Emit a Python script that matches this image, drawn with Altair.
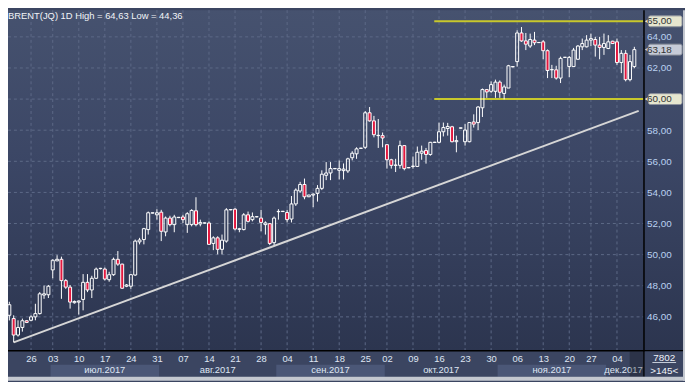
import altair as alt
import pandas as pd

# ---------------- data ----------------
opens = [
    46.10, 45.89, 44.83, 45.32, 45.75, 45.78, 46.00, 46.21, 47.40, 47.42,
    49.02, 49.60, 49.70, 48.33, 47.91, 46.91, 46.95, 47.12, 48.22, 47.73,
    48.48, 49.10, 49.07, 48.39, 48.71, 49.70, 49.39, 47.97, 47.97, 48.69,
    50.82, 50.97, 51.61, 52.67, 52.56, 52.73, 51.46, 52.35, 51.93, 52.38,
    52.42, 51.93, 51.93, 52.82, 51.97, 52.03, 52.03, 50.72, 51.08, 50.34,
    50.87, 52.88, 52.92, 51.63, 51.61, 52.56, 52.25, 52.43, 52.35, 51.93,
    51.99, 50.77, 52.76, 52.77, 52.71, 52.29, 53.26, 54.09, 54.51, 53.72,
    53.83, 53.94, 54.26, 55.10, 55.25, 55.52, 55.42, 55.40, 55.38, 56.23,
    56.48, 56.83, 56.90, 59.12, 58.60, 57.65, 57.65, 57.07, 56.10, 55.74,
    55.74, 57.01, 55.58, 55.67, 55.67, 56.52, 56.69, 56.44, 57.21, 57.22,
    57.90, 58.11, 58.22, 57.26, 58.13, 57.26, 57.26, 58.53, 58.49, 59.44,
    60.61, 60.50, 60.50, 61.09, 60.36, 60.71, 62.07, 62.41, 64.25, 63.74,
    63.41, 63.79, 63.64, 63.68, 63.11, 61.88, 61.88, 61.35, 62.68, 62.09,
    62.09, 62.56, 63.36, 63.36, 63.79, 63.83, 63.47, 63.32, 63.25, 63.72,
    63.68, 62.35, 62.94, 61.25, 62.09]
highs = [
    46.97, 46.10, 45.78, 45.89, 45.80, 46.10, 46.84, 47.59, 48.01, 48.05,
    49.70, 49.96, 49.87, 48.43, 48.05, 47.05, 47.05, 48.75, 48.75, 48.64,
    49.17, 49.15, 49.17, 48.90, 49.81, 50.23, 49.42, 48.11, 48.75, 50.97,
    51.08, 51.72, 52.77, 52.70, 52.92, 52.88, 52.45, 52.50, 52.56, 52.42,
    52.56, 52.73, 52.92, 53.69, 52.25, 52.06, 52.14, 51.18, 51.18, 51.29,
    52.99, 52.92, 52.99, 51.72, 52.67, 52.77, 52.71, 52.46, 52.88, 52.14,
    52.03, 52.45, 52.92, 52.80, 52.88, 53.77, 54.26, 54.68, 54.89, 53.85,
    53.94, 54.47, 55.42, 55.95, 55.95, 55.56, 56.05, 55.86, 56.23, 56.65,
    56.90, 56.86, 59.23, 59.49, 58.92, 58.72, 57.85, 57.07, 56.16, 56.16,
    57.33, 57.01, 55.62, 56.31, 56.95, 57.01, 56.86, 57.25, 57.25, 58.49,
    58.49, 58.47, 58.28, 57.65, 58.17, 58.39, 58.49, 59.02, 59.55, 60.68,
    60.65, 61.14, 61.25, 61.20, 60.93, 62.20, 62.11, 64.42, 64.63, 64.25,
    64.21, 64.32, 63.66, 63.79, 63.19, 62.20, 62.14, 62.73, 62.70, 62.77,
    63.29, 63.47, 63.89, 64.11, 64.21, 64.00, 64.00, 64.21, 64.11, 63.75,
    63.89, 63.15, 63.15, 62.84, 63.36]
lows = [
    45.77, 44.36, 44.73, 45.05, 45.60, 45.72, 45.78, 46.15, 47.16, 47.21,
    48.48, 49.58, 47.16, 47.80, 46.53, 46.85, 46.15, 46.42, 47.59, 47.21,
    48.43, 49.05, 48.33, 48.26, 48.64, 49.28, 47.80, 47.91, 47.80, 48.64,
    50.66, 50.66, 51.29, 52.65, 52.25, 50.87, 51.18, 51.82, 51.44, 52.35,
    52.03, 51.40, 51.82, 51.82, 51.82, 52.00, 50.66, 50.29, 50.02, 50.02,
    50.77, 52.85, 51.56, 51.44, 51.56, 52.07, 52.14, 52.40, 51.50, 51.29,
    50.61, 50.61, 52.25, 52.74, 52.07, 52.07, 53.13, 53.98, 53.56, 53.70,
    53.05, 53.41, 54.15, 54.79, 54.79, 55.50, 54.83, 54.83, 55.25, 56.06,
    56.16, 56.81, 56.80, 58.55, 57.54, 56.86, 56.90, 55.53, 55.53, 55.31,
    55.53, 55.42, 55.56, 55.53, 55.63, 56.10, 55.85, 56.36, 57.19, 57.16,
    57.60, 57.65, 57.22, 56.58, 58.10, 57.01, 57.22, 58.17, 58.01, 58.85,
    60.08, 60.40, 60.08, 60.08, 59.98, 60.71, 62.05, 62.09, 63.68, 63.15,
    63.29, 63.47, 63.61, 62.56, 61.35, 61.35, 61.25, 61.03, 62.66, 61.41,
    62.09, 62.52, 63.15, 63.32, 63.41, 62.73, 62.56, 62.84, 63.21, 63.55,
    62.20, 61.67, 61.14, 61.14, 61.98]
closes = [
    46.78, 44.83, 45.32, 45.75, 45.64, 46.00, 46.21, 47.48, 47.48, 47.97,
    49.64, 49.70, 48.33, 47.91, 46.95, 46.99, 47.02, 48.22, 47.73, 48.48,
    49.07, 49.12, 48.43, 48.71, 49.70, 49.39, 47.84, 48.05, 48.71, 50.87,
    50.94, 51.67, 52.69, 52.69, 52.69, 51.50, 52.35, 51.93, 52.42, 52.40,
    52.25, 52.63, 52.84, 51.93, 52.07, 52.04, 50.66, 51.08, 50.34, 50.93,
    52.88, 52.90, 51.65, 51.66, 52.56, 52.14, 52.44, 52.44, 52.07, 52.04,
    50.72, 52.35, 52.78, 52.79, 52.25, 53.26, 54.15, 54.51, 53.72, 53.83,
    53.89, 54.26, 55.17, 55.25, 55.53, 55.54, 55.53, 55.50, 56.16, 56.52,
    56.80, 56.85, 59.12, 58.60, 57.71, 57.67, 57.50, 56.10, 55.74, 55.76,
    57.01, 55.53, 55.60, 55.69, 56.58, 56.65, 56.44, 57.22, 57.23, 57.90,
    58.17, 58.24, 57.26, 57.33, 58.15, 58.01, 58.49, 58.39, 59.49, 60.61,
    60.46, 60.93, 61.09, 60.44, 60.78, 62.14, 62.09, 64.25, 63.74, 63.53,
    63.83, 63.62, 63.63, 63.11, 61.84, 61.90, 61.35, 62.62, 62.69, 62.68,
    63.15, 63.41, 63.57, 63.79, 63.89, 63.47, 63.32, 63.57, 63.68, 63.57,
    62.35, 62.94, 61.25, 62.41, 63.18]

# x axis: bar index of each Monday and its day label
monday_bars = [5, 10, 16, 22, 28, 34, 40, 46, 52, 58, 64, 70, 76, 82, 87, 93,
               99, 105, 111, 117, 123, 129, 134, 140]
monday_labels = ["26", "03", "10", "17", "24", "31", "07", "14", "21", "28",
                 "04", "11", "18", "25", "02", "09", "16", "23", "30", "06",
                 "13", "20", "27", "04"]
# month strip: name, first bar, last bar, shaded
month_names = ["июл.2017", "авг.2017", "сен.2017", "окт.2017", "ноя.2017", "дек.2017"]
month_first = [10, 35, 62, 87, 113, 138]
month_last = [34, 61, 86, 112, 137, 145]
month_shaded = [True, False, True, False, True, False]

# y axis
ylabel_values = [46, 48, 50, 52, 54, 56, 58, 62, 64]
ygrid_values = [46, 48, 50, 52, 54, 56, 58, 60, 62, 64]

# support / resistance levels and trend line
level_prices = [65.0, 60.0]
level_from_bar = [97.9, 97.9]
trend_bars = [1, 145]
trend_prices = [44.36, 59.24]

symbol = "BRENT(JQ)"
period = "1D"
corner_texts = ["7802", ">145<"]

# ---------------- build ----------------
W, H = 643, 344
XDOM = [0.83, 144.97]
YDOM = [43.859, 65.715]
FONT = "Liberation Sans"


def fmt(v):
    return f"{v:.2f}".replace(".", ",")


n = len(closes)
candles = pd.DataFrame({"i": list(range(n)), "o": opens, "h": highs,
                        "l": lows, "c": closes})
candles["top"] = candles[["o", "c"]].max(axis=1)
candles["bot"] = candles[["o", "c"]].min(axis=1)
candles["dir"] = ["up" if c >= o else "down" for o, c in zip(opens, closes)]

months = pd.DataFrame({"name": month_names, "a": month_first, "b": month_last,
                       "shaded": month_shaded})
months["x0"] = months["a"] - 0.5
months["x1"] = months["b"] + 0.5
months["mid"] = (months["x0"] + months["x1"]) / 2

xs = alt.Scale(domain=XDOM, nice=False, zero=False)
ys = alt.Scale(domain=YDOM, nice=False, zero=False)

xexpr = ("[" + ",".join(f"'{s}'" for s in monday_labels) + "][indexof(["
         + ",".join(str(b) for b in monday_bars) + "], datum.value)]")
xaxis = alt.Axis(values=monday_bars, labelExpr=xexpr, grid=False, domain=False,
                 ticks=False, labelPadding=3, labelFontSize=9.5,
                 labelColor="#dfe6f3", labelFont=FONT, title=None, zindex=1,
                 labelFlush=False, labelOverlap=False)
yaxis = alt.Axis(orient="right", values=ylabel_values,
                 labelExpr="replace(format(datum.value, '.2f'), '.', ',')",
                 grid=False, domain=False, ticks=False, labelPadding=3,
                 labelFontSize=10, labelColor="#b9d0f0", labelFont=FONT,
                 labelAlign="left", labelBaseline="middle", title=None,
                 zindex=1)


def X(f):
    return alt.X(f, type="quantitative", scale=xs, axis=xaxis)


def Y(f):
    return alt.Y(f, type="quantitative", scale=ys, axis=yaxis)


one = alt.Data(values=[{"k": 1}])

grad = alt.LinearGradient(
    gradient="linear", x1=0, x2=0, y1=0, y2=1,
    stops=[alt.GradientStop(color="#46526f", offset=0),
           alt.GradientStop(color="#3b4665", offset=0.45),
           alt.GradientStop(color="#2c354f", offset=1)])

layers = []
layers.append(alt.Chart(one).mark_rect(fill=grad).encode(
    x=alt.value(0), x2=alt.value(683), y=alt.value(0), y2=alt.value(H)))
layers.append(alt.Chart(one).mark_rect(fill="#3b4561").encode(
    x=alt.value(0), x2=alt.value(683), y=alt.value(H), y2=alt.value(371)))
layers.append(alt.Chart(months[months["shaded"]]).mark_rect(fill="#4b5777").encode(
    x=X("x0"), x2="x1", y=alt.value(358.7), y2=alt.value(371)))
layers.append(alt.Chart(months).mark_text(
    font=FONT, fontSize=9.5, color="#dfe6f3", align="center", baseline="middle").encode(
    x=X("mid"), y=alt.value(364.5), text="name:N"))

# grid
layers.append(alt.Chart(pd.DataFrame({"v": ygrid_values})).mark_rule(
    color="#5d6987", strokeDash=[3, 3], strokeWidth=1).encode(
    y=Y("v"), x=alt.value(0), x2=alt.value(W)))
layers.append(alt.Chart(pd.DataFrame({"b": monday_bars})).mark_rule(
    color="#5d6987", strokeDash=[3, 3], strokeWidth=1).encode(
    x=X("b"), y=alt.value(0), y2=alt.value(H)))

# levels and trend
layers.append(alt.Chart(pd.DataFrame({"v": level_prices, "x0": level_from_bar})).mark_rule(
    color="#c8c82c", strokeWidth=2).encode(x=X("x0"), x2=alt.value(W), y=Y("v")))
layers.append(alt.Chart(pd.DataFrame({"b": trend_bars, "p": trend_prices})).mark_line(
    color="#d6d6d6", strokeWidth=2, clip=True).encode(x=X("b"), y=Y("p")))

# candles
base = alt.Chart(candles)
layers.append(base.mark_rule(color="#ffffff", strokeWidth=1, clip=True).encode(
    x=X("i"), y=Y("h"), y2="top"))
layers.append(base.mark_rule(color="#ffffff", strokeWidth=1, clip=True).encode(
    x=X("i"), y=Y("bot"), y2="l"))
layers.append(base.mark_bar(size=3, stroke="#ffffff", strokeWidth=1, clip=True).encode(
    x=X("i"), y=Y("bot"), y2="top",
    fill=alt.Fill("dir:N", scale=alt.Scale(domain=["up", "down"],
                                           range=["transparent", "#e3173e"]),
                  legend=None)))

# frame lines
layers.append(alt.Chart(one).mark_rule(color="#000000", strokeWidth=1.5).encode(
    x=alt.value(643.5), y=alt.value(0), y2=alt.value(371)))
layers.append(alt.Chart(one).mark_rule(color="#000000", strokeWidth=1.5).encode(
    y=alt.value(344.5), x=alt.value(0), x2=alt.value(683)))
layers.append(alt.Chart(one).mark_rect(fill="#000000", opacity=0.25).encode(
    x=alt.value(629), x2=alt.value(642.7), y=alt.value(345.3), y2=alt.value(371)))
layers.append(alt.Chart(one).mark_rect(fill="#3b4561").encode(
    x=alt.value(644.3), x2=alt.value(683), y=alt.value(345.3), y2=alt.value(371)))
layers.append(alt.Chart(one).mark_text(
    text=corner_texts[0], font=FONT, fontSize=10, color="#eef2f8",
    align="center", baseline="middle").encode(x=alt.value(664), y=alt.value(352)))
layers.append(alt.Chart(one).mark_rule(color="#c9d0dc", strokeWidth=1).encode(
    x=alt.value(652), x2=alt.value(676), y=alt.value(356.5)))
layers.append(alt.Chart(one).mark_text(
    text=corner_texts[1], font=FONT, fontSize=10, color="#eef2f8",
    align="center", baseline="middle").encode(x=alt.value(664), y=alt.value(364.7)))

# price tags on the right axis
tags = pd.DataFrame({"v": level_prices + [closes[-1]],
                     "label": [fmt(v) for v in level_prices] + [fmt(closes[-1])],
                     "kind": ["level", "level", "last"]})
tag_scale = alt.Scale(domain=["level", "last"], range=["#e6e6cf", "#c6cbd8"])
layers.append(alt.Chart(tags).mark_tick(
    orient="horizontal", size=34, thickness=11, opacity=1,
    stroke="#8e939d", strokeWidth=1, cornerRadius=2).encode(
    y=Y("v"), x=alt.value(665),
    color=alt.Color("kind:N", scale=tag_scale, legend=None)))
layers.append(alt.Chart(tags).mark_point(
    shape="triangle-left", filled=True, size=40, opacity=1).encode(
    y=Y("v"), x=alt.value(647),
    color=alt.Color("kind:N", scale=tag_scale, legend=None)))
layers.append(alt.Chart(tags).mark_text(
    font=FONT, fontSize=10, color="#333333", align="left", baseline="middle").encode(
    y=Y("v"), x=alt.value(646.5), text="label:N"))

# title line
title_text = f"{symbol} {period} High = {fmt(max(highs))} Low = {fmt(min(lows))}"
layers.append(alt.Chart(one).mark_text(
    text=title_text, font=FONT, fontSize=9.5, color="#f2f4f8",
    align="left", baseline="top").encode(x=alt.value(0), y=alt.value(1)))

# outer frame
layers.append(alt.Chart(one).mark_rect(fill="#c4c8d0").encode(
    x=alt.value(683), x2=alt.value(686), y=alt.value(0), y2=alt.value(375)))
layers.append(alt.Chart(one).mark_rect(fill="#c4c8d0").encode(
    x=alt.value(0), x2=alt.value(686), y=alt.value(371), y2=alt.value(375)))

chart = alt.layer(*layers).properties(
    width=W, height=H,
    padding={"left": 0, "top": 0, "right": 42, "bottom": 30},
    autosize=alt.AutoSizeParams(type="none"),
    background="#3b4561",
).configure_view(stroke=None)

chart.save("out.html", embed_options={"renderer": "svg", "actions": False})
